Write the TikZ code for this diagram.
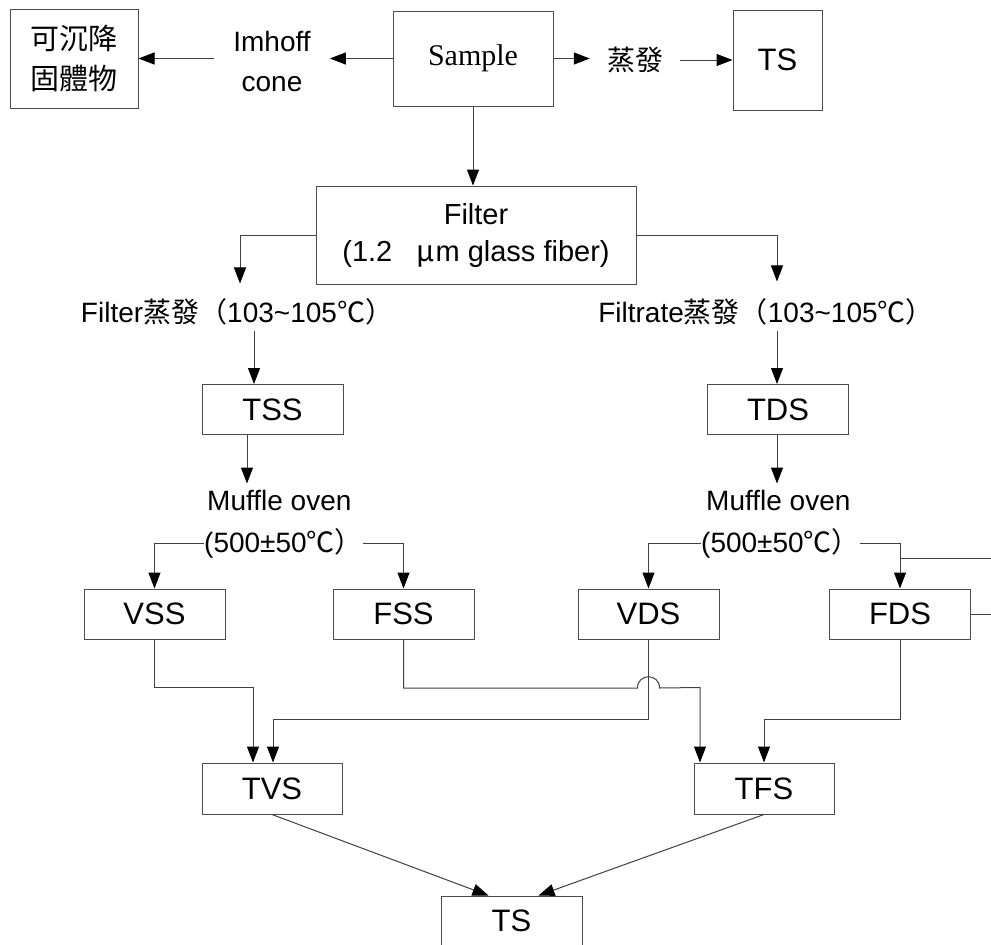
\documentclass[tikz,border=0pt]{standalone}
\usepackage{fontspec}
\setmainfont{Liberation Sans}
\newfontfamily\cjk{Noto Sans CJK TC}
\newfontfamily\tms{Liberation Serif}
\usetikzlibrary{arrows.meta,calc}
\begin{document}
\begin{tikzpicture}[x=1pt,y=-1pt,
  box/.style={draw=black!70, line width=1pt, minimum width=141pt, minimum height=50pt, inner sep=0pt, font=\fontsize{31}{31}\selectfont},
  txt/.style={inner sep=0pt, font=\fontsize{28}{40}\selectfont, align=center},
  arr/.style={draw=black!75, line width=1pt, -{Triangle[length=16pt,width=12pt,color=black,fill=black]}},
  ln/.style={draw=black!75, line width=1pt}]
\useasboundingbox[fill=white] (0,0) rectangle (991,945);
% top row
\node[box, minimum width=128pt, minimum height=99pt, font=\cjk\fontsize{29}{40}\selectfont, align=center] (sett) at (74,58.5) {可沉降\\固體物};
\node[txt, inner xsep=19pt] (imh) at (272,61) {Imhoff\\cone};
\node[box, minimum width=160pt, minimum height=95pt, font=\tms\fontsize{30}{30}\selectfont] (sample) at (473,58.5) {Sample};
\node[txt, inner xsep=17pt, font=\cjk\fontsize{28}{28}\selectfont] (evap) at (635,60) {蒸發};
\node[box, minimum width=89pt, minimum height=100pt] (ts1) at (777.5,60) {TS};
% filter
\node[box, minimum width=320pt, minimum height=98pt, font=\fontsize{29}{37}\selectfont, align=center] (filt) at (476,235) {Filter\\(1.2\hspace{24pt}{\cjk μ}\hspace{1pt}m glass fiber)};
\node[txt] (ft1) at (237,312) {Filter{\cjk 蒸發（}103\textasciitilde105{\cjk ℃）}};
\node[txt] (ft2) at (766,312) {Filtrate{\cjk 蒸發（}103\textasciitilde105{\cjk ℃）}};
\coordinate (lx) at (240,0);
\coordinate (lx2) at (254,0);
\coordinate (lx3) at (247,0);
\coordinate (rx) at (777,0);
\node[box] (tss) at (272.5,409.5) {TSS};
\node[box] (tds) at (778,409.5) {TDS};
\node[txt, anchor=west] (mo1) at (207,500) {Muffle oven};
\node[txt, anchor=west] (mo2) at (706,500) {Muffle oven};
\node[txt, anchor=west] (mt1) at (204,543) {(500±50{\cjk ℃）}};
\node[txt, anchor=west] (mt2) at (701,543) {(500±50{\cjk ℃）}};
\node[box] (vss) at (154.5,614) {VSS};
\node[box] (fss) at (403.5,614) {FSS};
\node[box] (vds) at (648.5,614) {VDS};
\node[box] (fds) at (900,614) {FDS};
\node[box, minimum width=140pt, minimum height=51pt] (tvs) at (272,788.5) {TVS};
\node[box, minimum width=140pt, minimum height=51pt] (tfs) at (764,788.5) {TFS};
\node[box, minimum height=50pt] (ts2) at (511.5,921) {TS};
\coordinate (edge1) at (993,558);
\coordinate (yA) at (0,688);
% connectors top
\draw[arr] (sample.west) -- (sample.west -| imh.east);
\draw[arr] (imh.west |- sett.east) -- (sett.east);
\draw[arr] (sample.east) -- (sample.east -| evap.west);
\draw[arr] (evap.east |- ts1.west) -- (ts1.west);
\draw[arr] (sample.south) -- (sample.south |- filt.north);
\draw[arr] (filt.west) -| ($(ft1.north -| lx)+(0,-15)$);
\draw[arr] (filt.east) -| ($(ft2.north -| rx)+(0,-17)$);
\draw[arr] ($(ft1.south -| lx2)+(0,5)$) -- (tss.north -| lx2);
\draw[arr] ($(ft2.south -| rx)+(0,5)$) -- (tds.north -| rx);
\draw[arr] (tss.south -| lx3) -- ($(mo1.north -| lx3)+(0,-6)$);
\draw[arr] (tds.south -| rx) -- ($(mo2.north -| rx)+(0,-6)$);
\draw[arr] (mt1.west) -| (vss.north);
\draw[arr] (mt1.east) -| (fss.north);
\draw[arr] (mt2.west) -| (vds.north);
\draw[arr] (mt2.east) -| (fds.north);
\draw[ln] (fds.north |- edge1) -- (edge1);
\draw[ln] (fds.east) -- (fds.east -| edge1);
% connectors bottom
\draw[arr] (vss.south) |- ($(tvs.north)+(-19,-75)$) -- ($(tvs.north)+(-19,0)$);
\draw[arr] (vds.south) |- ($(tvs.north)+(1,-43)$) -- ($(tvs.north)+(1,0)$);
\draw[arr] (fss.south) |- ($(vds.south |- yA)+(-11,0)$) .. controls +(0,-15) and +(0,-15) .. ($(vds.south |- yA)+(11,0)$) -- ($(tfs.north)+(-64,-75)$) -- ($(tfs.north)+(-64,0)$);
\draw[arr] (fds.south) |- ($(tfs.north)+(0,-43)$) -- (tfs.north);
\draw[arr] (tvs.south) -- ($(ts2.north)+(-23,0)$);
\draw[arr] (tfs.south) -- ($(ts2.north)+(27,0)$);
\end{tikzpicture}
\end{document}
